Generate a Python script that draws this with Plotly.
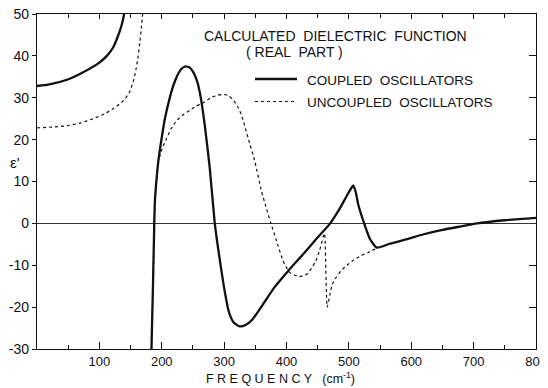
import plotly.graph_objects as go

# ---------------- data ----------------
coupled_x1 = [0, 20, 48, 74, 100, 112, 122, 130, 136, 140]
coupled_y1 = [32.8, 33.2, 34.3, 36.1, 38.4, 40.0, 42.0, 44.8, 47.5, 50.2]

coupled_x2 = [183.5, 186, 188, 189, 191.8, 194.4, 200, 205, 212, 218.5, 225, 231, 238,
              245, 251, 257, 262, 269, 277, 285, 291, 299, 307, 315, 325, 335, 345,
              363, 380, 403, 427, 448, 470, 486, 499, 507, 511, 515, 524.5, 534, 545,
              565, 590, 620, 650, 680, 705, 750, 800]
coupled_y2 = [-30, -14.4, 0, 5.3, 10.8, 14.7, 20.5, 25, 29.5, 32.9, 35.3, 36.8, 37.5,
              37.2, 36, 33.8, 30.5, 23.4, 13.2, 0, -6.6, -14.5, -20.8, -23.6, -24.6, -24.2, -23.0,
              -19.2, -15.4, -11.3, -7.3, -3.7, 0, 3.7, 7.2, 9.05, 7.5, 4.5, 0, -3.8, -5.8,
              -4.9, -3.9, -2.6, -1.55, -0.7, 0, 0.75, 1.3]

uncoupled_x1 = [0, 25, 48, 70, 90, 110, 122, 135, 141, 148, 154, 159, 162.3, 165, 167.5, 169.5]
uncoupled_y1 = [22.8, 23, 23.3, 24, 25, 26.3, 27.4, 28.8, 29.7, 31.3, 33.7, 37, 40, 43.5, 47, 50.2]

uncoupled_x2 = [183.5, 186, 188, 189, 191.8, 194.4, 200, 207.8, 215, 224, 235, 245, 255, 264, 280,
                290, 298.6, 307, 315, 322, 328, 338.6, 349.4, 360, 367, 375, 384, 394.7,
                405, 420, 433, 441, 447, 453, 458.8, 461, 465.2, 469.6, 473.3, 480, 487,
                497, 508, 520, 530, 545]
uncoupled_y2 = [-30, -14.4, 0, 5.3, 10.8, 14.7, 17.6, 20.3, 22.6, 24.6, 26, 27, 28, 28.6, 30.1,
                30.6, 30.8, 30.5, 29.4, 27.8, 25.8, 20.3, 14.7, 7.6, 4, 0, -4.2, -9,
                -11.7, -12.7, -12.1, -10.5, -9, -6.5, -3.2, -2.4, -20, -17, -14.6, -12.8, -11.4,
                -10, -8.7, -7.7, -7, -5.9]

x_tick_vals = [100, 200, 300, 400, 500, 600, 700, 800]
x_tick_text = ["100", "200", "300", "400", "500", "600", "700", "800"]
y_tick_vals = [-30, -20, -10, 0, 10, 20, 30, 40, 50]
y_tick_text = ["-30", "-20", "-10", "0", "10", "20", "30", "40", "50"]

FONT = "Liberation Sans, Arial, sans-serif"
INK = "#111111"

def join(xa, ya, xb, yb):
    return xa + [None] + xb, ya + [None] + yb

cx, cy = join(coupled_x1, coupled_y1, coupled_x2, coupled_y2)
ux, uy = join(uncoupled_x1, uncoupled_y1, uncoupled_x2, uncoupled_y2)

fig = go.Figure()
fig.add_trace(go.Scatter(x=ux, y=uy, mode="lines", name="UNCOUPLED OSCILLATORS",
                         line=dict(color=INK, width=1.2, dash="3px,3px", shape="spline", smoothing=0.5),
                         connectgaps=False, showlegend=False))
fig.add_trace(go.Scatter(x=cx, y=cy, mode="lines", name="COUPLED OSCILLATORS",
                         line=dict(color=INK, width=2.3, shape="spline", smoothing=0.5),
                         connectgaps=False, showlegend=False))
# invisible trace to hold the mirrored axes
fig.add_trace(go.Scatter(x=[0, 800], y=[-30, 50], xaxis="x2", yaxis="y2", mode="markers",
                         marker=dict(opacity=0), hoverinfo="skip", showlegend=False))

# page offset of the figure inside the browser window (body margin)
OFF = 8
# plot-area edges as seen in the picture
L = 37; R = 536; T = 14; B = 349
W = 548; H = 388

def px(xp):
    return (xp - L) / (R - L)
def py(yp):
    return 1 - (yp - T) / (B - T)

fig.add_shape(type="line", xref="paper", yref="paper", x0=px(255), x1=px(297), y0=py(79), y1=py(79),
              line=dict(color=INK, width=2.3))
fig.add_shape(type="line", xref="paper", yref="paper", x0=px(255), x1=px(297), y0=py(101.5), y1=py(101.5),
              line=dict(color=INK, width=1.2, dash="3px,3px"))

title_font = dict(family=FONT, size=14, color=INK)
leg_font = dict(family=FONT, size=13.5, color=INK)
fig.add_annotation(xref="paper", yref="paper", x=px(335), y=py(36), text="CALCULATED  DIELECTRIC  FUNCTION",
                   showarrow=False, font=title_font, xanchor="center", yanchor="middle")
fig.add_annotation(xref="paper", yref="paper", x=px(294), y=py(52), text="( REAL  PART )",
                   showarrow=False, font=title_font, xanchor="center", yanchor="middle")
fig.add_annotation(xref="paper", yref="paper", x=px(305), y=py(80), text="COUPLED  OSCILLATORS",
                   showarrow=False, font=leg_font, xanchor="left", yanchor="middle")
fig.add_annotation(xref="paper", yref="paper", x=px(305), y=py(102), text="UNCOUPLED  OSCILLATORS",
                   showarrow=False, font=leg_font, xanchor="left", yanchor="middle")
fig.add_annotation(xref="paper", yref="paper", x=px(15), y=py(162), text="\u03b5'",
                   showarrow=False, font=dict(family=FONT, size=15, color=INK),
                   xanchor="center", yanchor="middle")
fig.add_annotation(xref="paper", yref="paper", x=px(280), y=py(378),
                   text="F R E Q U E N C Y   (cm<sup>-1</sup>)",
                   showarrow=False, font=dict(family=FONT, size=12.5, color=INK),
                   xanchor="center", yanchor="middle")

axis_common = dict(showgrid=False, linecolor=INK, linewidth=1.3, tickcolor=INK, automargin=False)

fig.update_layout(
    width=W, height=H,
    margin=dict(l=L - OFF, r=W - (R - OFF), t=T - OFF, b=H - (B - OFF), autoexpand=False),
    paper_bgcolor="white", plot_bgcolor="white",
    font=dict(family=FONT, size=14, color=INK),
    showlegend=False,
    xaxis=dict(range=[0, 800], tickvals=x_tick_vals, ticktext=x_tick_text,
               ticks="inside", ticklen=7, tickwidth=1.2, zeroline=False,
               ticklabeloverflow="allow",
               minor=dict(dtick=50, tick0=0, ticks="inside", ticklen=4, tickcolor=INK, tickwidth=1),
               tickfont=dict(family=FONT, size=13, color=INK), **axis_common),
    yaxis=dict(range=[-30, 50], tickvals=y_tick_vals, ticktext=y_tick_text,
               ticks="outside", ticklen=4, tickwidth=1.2,
               ticklabeloverflow="allow",
               zeroline=True, zerolinecolor="#333333", zerolinewidth=1,
               tickfont=dict(family=FONT, size=14, color=INK), **axis_common),
    xaxis2=dict(range=[0, 800], overlaying="x", side="top", anchor="y2",
                tickvals=[100, 200, 300, 400, 500, 600, 700], showticklabels=False,
                ticks="inside", ticklen=5, tickwidth=1.2, zeroline=False,
                minor=dict(dtick=50, tick0=0, ticks="inside", ticklen=4, tickcolor=INK, tickwidth=1),
                **axis_common),
    yaxis2=dict(range=[-30, 50], overlaying="y", side="right", anchor="x2",
                tickvals=[-20, -10, 10, 20, 30, 40], showticklabels=False,
                ticks="inside", ticklen=7, tickwidth=1.2, zeroline=False, **axis_common),
)

fig.write_html("out.html")
